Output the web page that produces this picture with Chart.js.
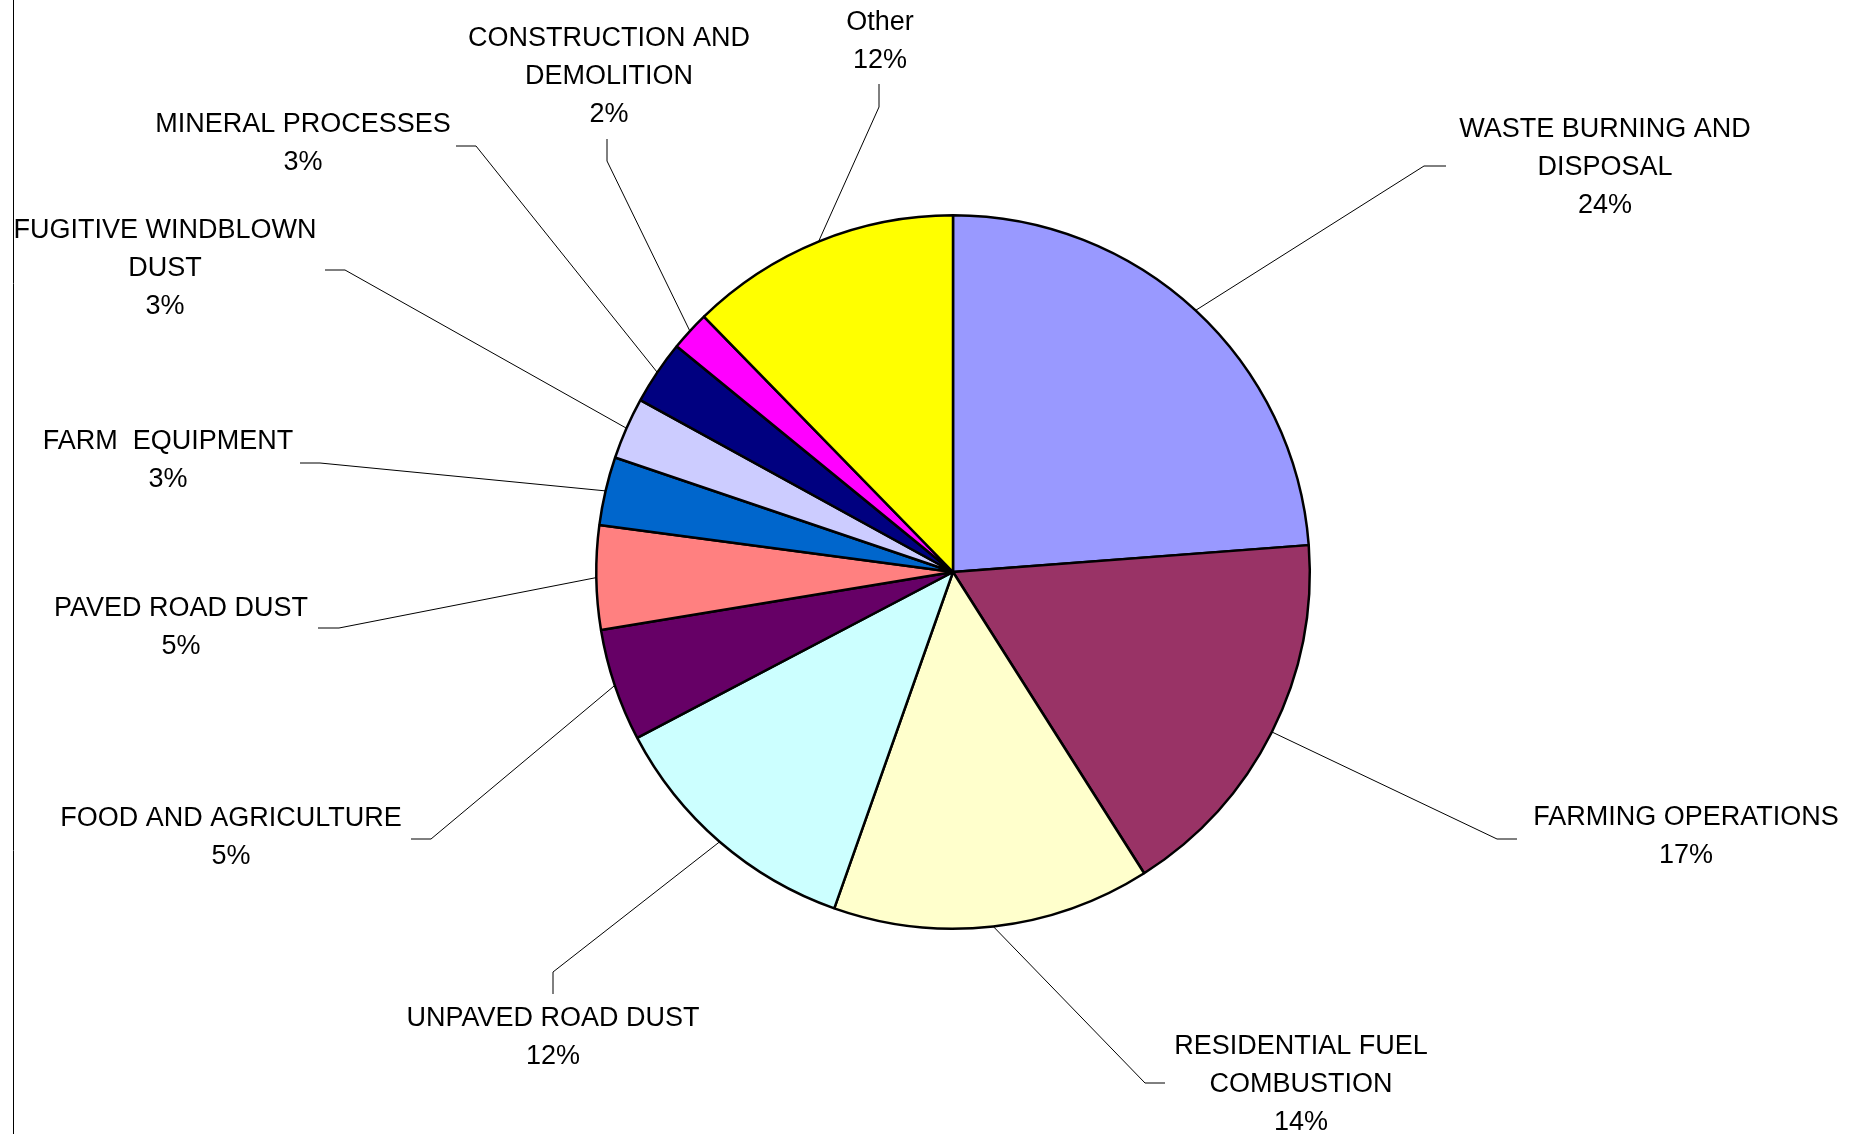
<!DOCTYPE html>
<html>
<head>
<meta charset="utf-8">
<script src="https://cdn.jsdelivr.net/npm/chart.js@4.4.0/dist/chart.umd.min.js"></script>
<style>
  body { margin: 0; background: #fff; }
  canvas { display: block; }
</style>
</head>
<body>
<canvas id="pie" width="1867" height="1134"></canvas>
<script>
// slice names (with the line breaks used in the labels)
const categories = [
    ['WASTE BURNING AND', 'DISPOSAL'],
    ['FARMING OPERATIONS'],
    ['RESIDENTIAL FUEL', 'COMBUSTION'],
    ['UNPAVED ROAD DUST'],
    ['FOOD AND AGRICULTURE'],
    ['PAVED ROAD DUST'],
    ['FARM  EQUIPMENT'],
    ['FUGITIVE WINDBLOWN', 'DUST'],
    ['MINERAL PROCESSES'],
    ['CONSTRUCTION AND', 'DEMOLITION'],
    ['Other']
];

// share of emissions (percent)
const shares = [23.8, 17.2, 14.4, 11.9, 5.1, 4.7, 3.1, 2.8, 2.9, 1.8, 12.3];

const sliceColors = [
    '#9999FF', '#993366', '#FFFFCC', '#CCFFFF', '#660066', '#FF8080',
    '#0066CC', '#CCCCFF', '#000080', '#FF00FF', '#FFFF00'
];

// label placement: leader elbow, leader end, text centre x, first line centre y
const labelSpots = [
    { elbow: [1424, 166], end: [1446, 166], tx: 1605, ty: 130 },
    { elbow: [1497, 839], end: [1517, 839], tx: 1686, ty: 818 },
    { elbow: [1145, 1083], end: [1165, 1083], tx: 1301, ty: 1047 },
    { elbow: [553, 972], end: [553, 994], tx: 553, ty: 1019 },
    { elbow: [431, 839], end: [411, 839], tx: 231, ty: 819 },
    { elbow: [339, 628], end: [318, 628], tx: 181, ty: 609 },
    { elbow: [320, 463], end: [300, 463], tx: 168, ty: 442 },
    { elbow: [345, 270], end: [325, 270], tx: 165, ty: 231 },
    { elbow: [476, 146], end: [456, 146], tx: 303, ty: 125 },
    { elbow: [607, 161], end: [607, 139], tx: 609, ty: 39 },
    { elbow: [879, 107], end: [879, 84], tx: 880, ty: 23 }
];

const lineGap = 38;

const calloutPlugin = {
    id: 'callouts',
    beforeDraw(chart) {
        const c = chart.ctx;
        c.save();
        c.strokeStyle = '#000';
        c.lineWidth = 1;
        c.beginPath();
        c.moveTo(13.5, 0);
        c.lineTo(13.5, chart.height);
        c.stroke();
        c.restore();
    },
    afterDraw(chart) {
        const c = chart.ctx;
        const arcs = chart.getDatasetMeta(0).data;
        const total = shares.reduce((a, b) => a + b, 0);
        c.save();
        c.font = '27px "Liberation Sans", Arial, sans-serif';
        c.fillStyle = '#000';
        c.textAlign = 'center';
        c.textBaseline = 'middle';
        arcs.forEach((arc, i) => {
            const p = arc.getProps(['x', 'y', 'startAngle', 'endAngle', 'outerRadius'], true);
            const mid = (p.startAngle + p.endAngle) / 2;
            const ax = p.x + Math.cos(mid) * p.outerRadius;
            const ay = p.y + Math.sin(mid) * p.outerRadius;
            const s = labelSpots[i];

            c.strokeStyle = '#000';
            c.lineWidth = 1;
            c.beginPath();
            c.moveTo(ax, ay);
            c.lineTo(s.elbow[0], s.elbow[1]);
            c.lineTo(s.end[0], s.end[1]);
            c.stroke();

            const lines = categories[i].concat([Math.round(shares[i] / total * 100) + '%']);
            lines.forEach((t, k) => c.fillText(t, s.tx, s.ty + k * lineGap));
        });
        c.restore();
    }
};

new Chart(document.getElementById('pie'), {
    type: 'pie',
    data: {
        labels: categories,
        datasets: [{
            data: shares,
            backgroundColor: sliceColors,
            borderColor: '#000',
            borderWidth: 2.5
        }]
    },
    options: {
        responsive: false,
        animation: false,
        layout: { padding: { left: 595, right: 556, top: 214, bottom: 204 } },
        plugins: {
            legend: { display: false },
            tooltip: { enabled: false }
        }
    },
    plugins: [calloutPlugin]
});
</script>
</body>
</html>
